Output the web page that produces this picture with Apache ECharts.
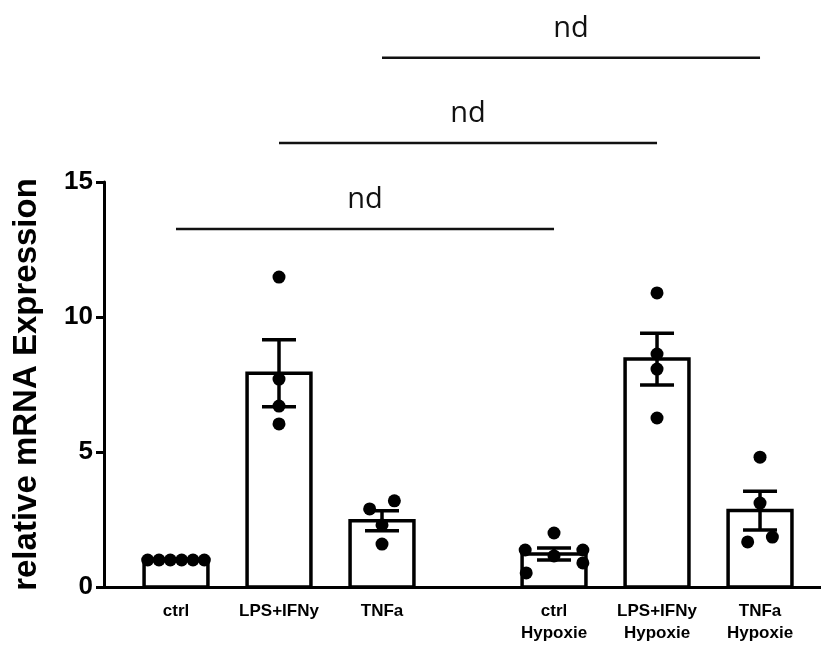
<!DOCTYPE html>
<html>
<head>
<meta charset="utf-8">
<script src="https://cdn.jsdelivr.net/npm/echarts@6/dist/echarts.min.js"></script>
<style>html,body{margin:0;padding:0;background:#fff}#chart{width:821px;height:655px}</style>
</head>
<body>
<div id="chart"></div>
<script>
// ---- data ----
const categories = ['ctrl', 'LPS+IFNy', 'TNFa', 'ctrl\nHypoxie', 'LPS+IFNy\nHypoxie', 'TNFa\nHypoxie'];
const positions = [0, 1, 2, 3.67, 4.67, 5.67];
const means = [1.0, 7.92, 2.45, 1.22, 8.44, 2.83];
const sems = [0.0, 1.24, 0.37, 0.22, 0.96, 0.72];
const pointValues = [
  [1.0, 1.0, 1.0, 1.0, 1.0, 1.0],
  [11.48, 7.7, 6.7, 6.04],
  [2.89, 3.19, 2.30, 1.59],
  [2.0, 1.37, 1.37, 0.89, 0.52, 1.15],
  [10.89, 8.63, 8.07, 6.26],
  [4.81, 3.11, 1.67, 1.85]
];
const pointOffsets = [
  [-0.275, -0.165, -0.055, 0.055, 0.165, 0.275],
  [0, 0, 0, 0],
  [-0.12, 0.12, 0, 0],
  [0, -0.28, 0.28, 0.28, -0.27, 0],
  [0, 0, 0, 0],
  [0, 0, -0.12, 0.12]
];
const bracketFrom = [0, 1, 2];
const bracketTo = [3, 4, 5];
const bracketHeight = [13.26, 16.44, 19.6];
const bracketLabel = ['nd', 'nd', 'nd'];
const yTicks = [0, 5, 10, 15];

// ---- build ----
const barData = positions.map((p, i) => [p, means[i]]);
const errData = positions.map((p, i) => [p, means[i], sems[i]]);
const scatterData = [];
pointValues.forEach((vals, g) => vals.forEach((v, k) => scatterData.push([positions[g] + pointOffsets[g][k], v])));
const bracketData = bracketFrom.map((f, i) => [positions[f], positions[bracketTo[i]], bracketHeight[i], i]);

const chart = echarts.init(document.getElementById('chart'), null, {renderer: 'canvas'});
chart.setOption({
  animation: false,
  grid: {left: 104, right: 0, top: 182, bottom: 68, containLabel: false},
  xAxis: {
    type: 'value', min: -0.699, max: 6.262,
    splitLine: {show: false},
    axisLine: {show: true, onZero: false, lineStyle: {color: '#000', width: 3}},
    axisTick: {show: false},
    axisLabel: {
      customValues: positions,
      margin: 13,
      color: '#000',
      fontFamily: 'Liberation Sans, Arial, sans-serif',
      fontWeight: 'bold',
      fontSize: 17,
      lineHeight: 22,
      formatter: function (v) {
        let best = 0;
        positions.forEach((p, i) => { if (Math.abs(p - v) < Math.abs(positions[best] - v)) best = i; });
        return categories[best];
      }
    }
  },
  yAxis: {
    type: 'value', min: 0, max: 15, interval: 5,
    splitLine: {show: false},
    axisLine: {show: true, onZero: false, lineStyle: {color: '#000', width: 3}},
    axisTick: {show: true, length: 8, lineStyle: {color: '#000', width: 3}},
    axisLabel: {
      customValues: yTicks,
      margin: 11, color: '#000',
      fontFamily: 'Liberation Sans, Arial, sans-serif',
      fontWeight: 'bold', fontSize: 26
    },
    name: 'relative mRNA Expression',
    nameLocation: 'middle',
    nameGap: 61,
    nameTextStyle: {
      color: '#000', fontFamily: 'Liberation Sans, Arial, sans-serif',
      fontWeight: 'bold', fontSize: 33
    }
  },
  series: [
    {
      type: 'custom', z: 2, data: barData, clip: false,
      renderItem: function (params, api) {
        const x = api.value(0), y = api.value(1);
        const top = api.coord([x, y]);
        const base = api.coord([x, 0]);
        const w = api.size([0.62, 0])[0];
        return {
          type: 'rect',
          shape: {x: top[0] - w / 2, y: top[1], width: w, height: base[1] - top[1]},
          style: {fill: '#fff', stroke: '#000', lineWidth: 3.5}
        };
      }
    },
    {
      type: 'scatter', z: 3, data: scatterData, symbol: 'circle', symbolSize: 13,
      itemStyle: {color: '#000', opacity: 1}
    },
    {
      type: 'custom', z: 4, data: errData, clip: false,
      renderItem: function (params, api) {
        const x = api.value(0), m = api.value(1), s = api.value(2);
        if (s <= 0) return null;
        const hi = api.coord([x, m + s]);
        const lo = api.coord([x, m - s]);
        const cw = api.size([0.33, 0])[0] / 2;
        const st = {stroke: '#000', lineWidth: 3.5};
        return {
          type: 'group', children: [
            {type: 'line', shape: {x1: hi[0], y1: hi[1], x2: lo[0], y2: lo[1]}, style: st},
            {type: 'line', shape: {x1: hi[0] - cw, y1: hi[1], x2: hi[0] + cw, y2: hi[1]}, style: st},
            {type: 'line', shape: {x1: lo[0] - cw, y1: lo[1], x2: lo[0] + cw, y2: lo[1]}, style: st}
          ]
        };
      }
    },
    {
      type: 'custom', z: 5, data: bracketData, clip: false,
      renderItem: function (params, api) {
        const x1 = api.value(0), x2 = api.value(1), h = api.value(2), idx = api.value(3);
        const a = api.coord([x1, h]);
        const b = api.coord([x2, h]);
        return {
          type: 'group', children: [
            {type: 'line', shape: {x1: a[0], y1: a[1], x2: b[0], y2: b[1]}, style: {stroke: '#111', lineWidth: 2.5}},
            {type: 'text', style: {
              text: bracketLabel[idx], x: (a[0] + b[0]) / 2, y: a[1] - 29,
              align: 'center', verticalAlign: 'middle',
              font: '29px "Open Sans", "Noto Sans", sans-serif', fill: '#111'
            }}
          ]
        };
      }
    }
  ]
});
</script>
</body>
</html>
